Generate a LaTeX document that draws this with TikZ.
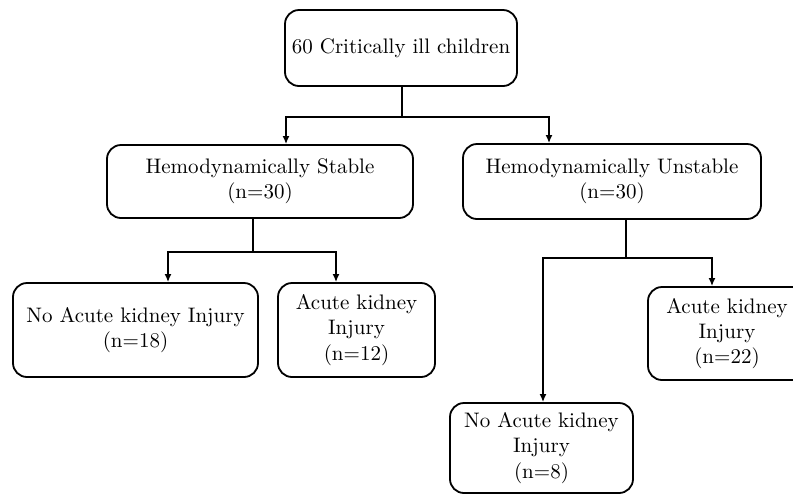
\documentclass[tikz,border=0pt]{standalone}
\usepackage{tikz}
\usetikzlibrary{arrows.meta, calc, positioning}
\tikzset{
    mybox/.style={draw,rounded corners=7pt,line width=0.9pt,align=center,inner sep=0pt,
      font=\fontsize{10.5pt}{12.6pt}\selectfont},
    myline/.style={line width=0.8pt},
    myarrow/.style={myline,-{Latex[length=4pt,width=3.5pt]}}
}

\begin{document}
\begin{tikzpicture}[x=0.5pt,y=-0.5pt]
  \useasboundingbox (0,0) rectangle (793,495);
  \clip (0,0) rectangle (793,495);
  % boxes
  \node[mybox,minimum width=116pt,minimum height=38pt] (total) at (401,48) {60 Critically ill children};
  \node[mybox,minimum width=153pt,minimum height=36.5pt] (stable) at (260,181.5) {Hemodynamically Stable\\(n=30)};
  \node[mybox,minimum width=149pt,minimum height=37.5pt] (unstable) at (612,181.5) {Hemodynamically Unstable\\(n=30)};
  \node[mybox,minimum width=122.5pt,minimum height=47pt] (noakiA) at (135.5,330) {No Acute kidney Injury\\(n=18)};
  \node[mybox,minimum width=78.5pt,minimum height=47pt] (akiA) at (356.5,330) {Acute kidney\\Injury\\(n=12)};
  \node[mybox,minimum width=79pt,minimum height=46.5pt] (akiB) at (727,333.5) {Acute kidney\\Injury\\(n=22)};
  \node[mybox,minimum width=91.5pt,minimum height=45pt] (noakiB) at (541.5,448) {No Acute kidney\\Injury\\(n=8)};
  % split points
  \coordinate (splitTop) at ($(total.south)+(1,30)$);
  \coordinate (splitA) at ($(stable.south)+(-7,33)$);
  \coordinate (splitB) at ($(unstable.south)+(14,38)$);
  % connectors
  \draw[myline] (total.south -| splitTop) -- (splitTop);
  \draw[myarrow] (splitTop) -| ($(stable.north)+(26,0)$);
  \draw[myarrow] (splitTop) -| ($(unstable.north)+(-63,0)$);
  \draw[myline] (stable.south -| splitA) -- (splitA);
  \draw[myarrow] (splitA) -| ($(noakiA.north)+(32.5,0)$);
  \draw[myarrow] (splitA) -| ($(akiA.north)+(-20.5,0)$);
  \draw[myline] (unstable.south -| splitB) -- (splitB);
  \draw[myarrow] (splitB) -| ($(noakiB.north)+(1.5,0)$);
  \draw[myarrow] (splitB) -| ($(akiB.north)+(-15,0)$);
\end{tikzpicture}
\end{document}
